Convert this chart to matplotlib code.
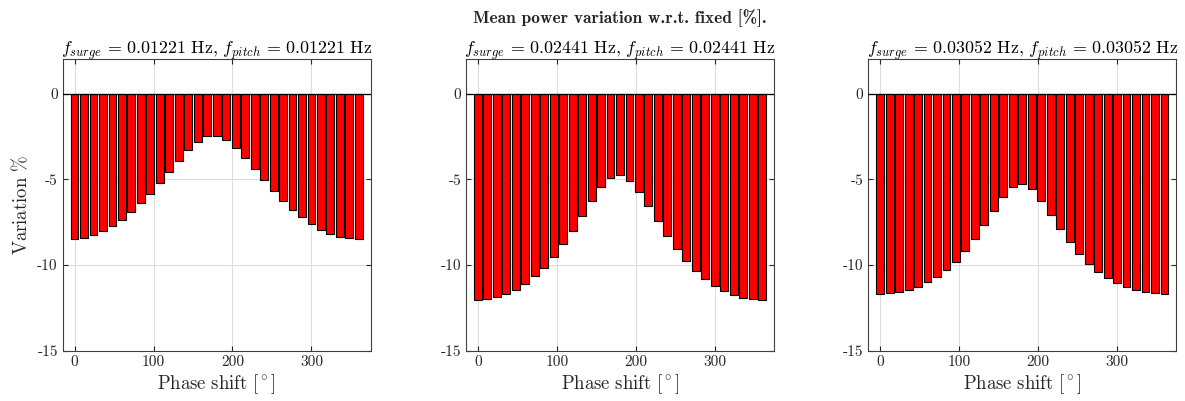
import numpy as np
import matplotlib
matplotlib.use("Agg")
import matplotlib.pyplot as plt

plt.rcParams['font.family'] = 'serif'
plt.rcParams['font.serif'] = ['cmr10']
plt.rcParams['mathtext.fontset'] = 'cm'
plt.rcParams['axes.unicode_minus'] = False
plt.rcParams['axes.formatter.use_mathtext'] = True

phase = list(range(0, 361, 12))

var_1 = [-8.49, -8.41, -8.25, -8.04, -7.75, -7.38, -6.93, -6.41, -5.85, -5.22,
         -4.58, -3.94, -3.30, -2.80, -2.50, -2.46, -2.70, -3.16, -3.75, -4.41,
         -5.05, -5.67, -6.25, -6.78, -7.22, -7.63, -7.96, -8.19, -8.35, -8.45, -8.49]
var_2 = [-12.02, -11.97, -11.88, -11.68, -11.43, -11.10, -10.66, -10.15, -9.53, -8.80,
         -8.00, -7.13, -6.24, -5.44, -4.91, -4.76, -5.08, -5.75, -6.55, -7.46,
         -8.29, -9.07, -9.75, -10.33, -10.81, -11.20, -11.51, -11.74, -11.90, -11.99, -12.02]
var_3 = [-11.68, -11.64, -11.57, -11.43, -11.27, -11.00, -10.69, -10.30, -9.80, -9.20,
         -8.50, -7.68, -6.84, -6.04, -5.45, -5.27, -5.58, -6.26, -7.06, -7.89,
         -8.67, -9.35, -9.93, -10.40, -10.77, -11.06, -11.29, -11.46, -11.58, -11.66, -11.68]

freqs = ["0.01221", "0.02441", "0.03052"]
series = [var_1, var_2, var_3]
xticks = [0, 100, 200, 300]
yticks = [-15, -10, -5, 0]

W, H = 1185, 401
fig = plt.figure(figsize=(W / 100, H / 100), dpi=100)

lefts_px = [62.7, 466.0, 868.3]
width_px = 308.0
top_px, bot_px = 59.3, 350.7

for i, (f, vals) in enumerate(zip(freqs, series)):
    ax = fig.add_axes([lefts_px[i] / W, 1 - bot_px / H, width_px / W, (bot_px - top_px) / H])
    ax.bar(phase, vals, width=10.0, color='#ff0000', edgecolor='black', linewidth=0.8, zorder=3)
    ax.axhline(0, color='black', linewidth=0.9, zorder=4)
    ax.set_xlim(-15, 375)
    ax.set_ylim(-15, 2)
    ax.set_xticks(xticks)
    ax.set_yticks(yticks)
    ax.set_xticklabels([str(t) for t in xticks])
    ax.set_yticklabels([str(t) for t in yticks])
    ax.grid(True, color='#dcdcdc', linewidth=0.8, zorder=0)
    ax.set_axisbelow(True)
    ax.tick_params(direction='in', top=True, right=True, length=3.5, width=0.8,
                   labelsize=11, colors='#262626', labelcolor='#262626')
    for s in ax.spines.values():
        s.set_color('#404040')
        s.set_linewidth(0.8)
    ax.set_title(r'$f_{surge}\,=\,%s\ \mathrm{Hz},\, f_{pitch}\,=\,%s\ \mathrm{Hz}$' % (f, f),
                 fontsize=12.9, pad=4)
    ax.set_xlabel(r'$\mathrm{Phase\ shift\ [^\circ]}$', fontsize=13.5, labelpad=2, color='#262626')
    if i == 0:
        ax.set_ylabel(r'$\mathrm{Variation\ \%}$', fontsize=13.5, labelpad=4, color='#262626')

fig.text(0.523, 0.955, 'Mean power variation w.r.t. fixed [%].', ha='center', va='center',
         fontsize=12.5, family='cmb10', color='#262626')

fig.savefig('out.png', dpi=100)
